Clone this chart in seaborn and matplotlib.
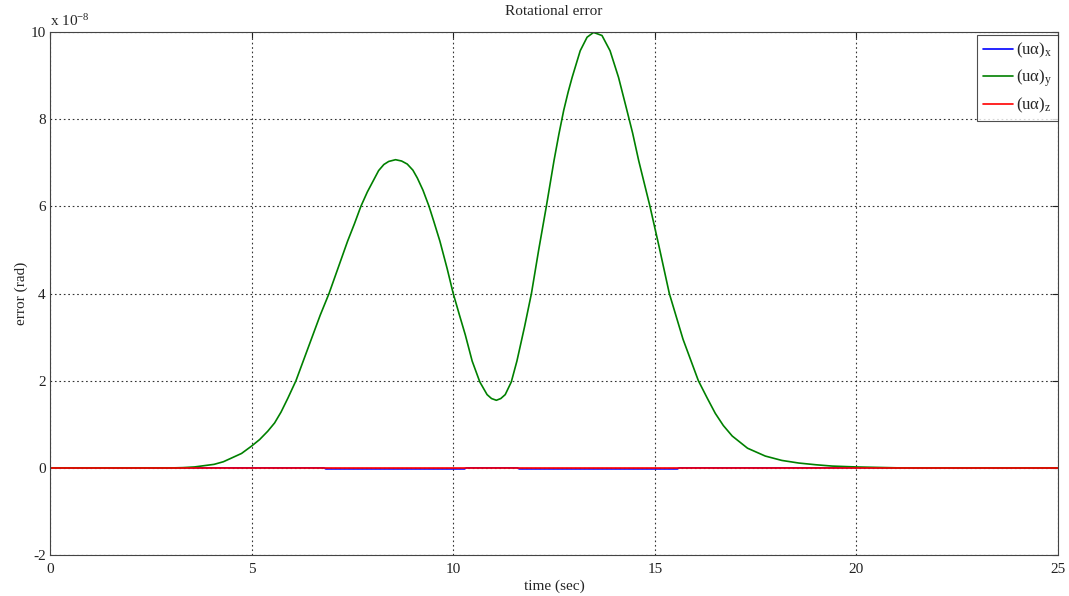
import numpy as np
import pandas as pd
import matplotlib
matplotlib.use("Agg")
import matplotlib.pyplot as plt
import seaborn as sns

# ---- data (values in units of 1e-8 rad) ----
t_y = [0.0, 3.1, 3.3, 3.58, 4.07, 4.3, 4.49, 4.75, 5.0, 5.2, 5.4, 5.57, 5.73, 5.9,
       6.1, 6.3, 6.5, 6.7, 6.92, 7.15, 7.38, 7.55, 7.71, 7.87, 8.03, 8.15, 8.28,
       8.4, 8.57, 8.72, 8.86, 9.0, 9.11, 9.25, 9.4, 9.52, 9.67, 9.85, 10.0, 10.15,
       10.3, 10.47, 10.66, 10.84, 10.95, 11.07, 11.18, 11.29, 11.44, 11.58, 11.77,
       11.94, 12.12, 12.31, 12.5, 12.62, 12.74, 12.85, 12.95, 13.15, 13.32, 13.48,
       13.69, 13.89, 14.1, 14.29, 14.45, 14.6, 14.88, 15.1, 15.36, 15.7, 16.08,
       16.3, 16.5, 16.7, 16.92, 17.3, 17.74, 18.15, 18.57, 19.0, 19.4, 20.0, 20.5,
       21.0, 25.0]
err_y = [0.0, 0.0, 0.005, 0.02, 0.08, 0.14, 0.22, 0.33, 0.50, 0.65, 0.84, 1.03, 1.28, 1.6,
         2.0, 2.5, 3.0, 3.5, 4.0, 4.6, 5.2, 5.6, 6.0, 6.33, 6.61, 6.82, 6.96,
         7.03, 7.07, 7.04, 6.97, 6.83, 6.65, 6.37, 6.0, 5.65, 5.2, 4.57, 4.0, 3.52,
         3.05, 2.45, 1.97, 1.68, 1.59, 1.55, 1.59, 1.68, 1.97, 2.45, 3.24,
         4.0, 5.0, 6.0, 7.05, 7.65, 8.2, 8.62, 8.96, 9.57, 9.88, 9.99,
         9.92, 9.57, 8.96, 8.27, 7.68, 7.05, 6.0, 5.1, 4.0, 2.95, 2.0,
         1.6, 1.25, 0.97, 0.73, 0.45, 0.27, 0.17, 0.11, 0.07, 0.04, 0.02, 0.01,
         0.0, 0.0]

t_x = [0.0, 6.79, 6.84, 10.28, 10.33, 11.59, 11.64, 15.56, 15.61, 25.0]
err_x = [0.0, 0.0, -0.025, -0.025, 0.0, 0.0, -0.025, -0.025, 0.0, 0.0]

t_z = [0.0, 25.0]
err_z = [0.0, 0.0]

labels = [r"(uα)$_\mathrm{x}$", r"(uα)$_\mathrm{y}$", r"(uα)$_\mathrm{z}$"]
colors = ["#0000ff", "#008000", "#ff0000"]

x_ticks = [0, 5, 10, 15, 20, 25]
y_ticks = [-2, 0, 2, 4, 6, 8, 10]

# ---- style ----
sns.set_style("white")
plt.rcParams["font.family"] = ["Liberation Serif", "DejaVu Serif"]
plt.rcParams["mathtext.fontset"] = "custom"
plt.rcParams["mathtext.rm"] = "Liberation Serif"
plt.rcParams["mathtext.it"] = "Liberation Serif:italic"
plt.rcParams["font.size"] = 11

fig = plt.figure(figsize=(10.69, 5.96), dpi=100)
ax = fig.add_axes([0.0468, 0.0688, 0.9429, 0.8775])

dfs = [pd.DataFrame({"t": t_x, "e": err_x}),
       pd.DataFrame({"t": t_y, "e": err_y}),
       pd.DataFrame({"t": t_z, "e": err_z})]
for df, lab, col in zip(dfs, labels, colors):
    sns.lineplot(data=df, x="t", y="e", ax=ax, color=col, linewidth=1.2,
                 label=lab, estimator=None, sort=False)

ax.set_xlim(0, 25)
ax.set_ylim(-2, 10)
ax.set_xticks(x_ticks)
ax.set_yticks(y_ticks)
ax.set_xticklabels([str(v) for v in x_ticks])
ax.set_yticklabels([str(v) for v in y_ticks])
ax.grid(True, linestyle=(0, (1.5, 2.5)), color="#333333", linewidth=0.8)
ax.tick_params(direction="in", length=4, top=True, right=True, labelsize=11,
               colors="#222222")
ax.tick_params(axis="x", pad=6)
ax.tick_params(axis="y", pad=3)
for s in ax.spines.values():
    s.set_color("#444444")
    s.set_linewidth(0.8)

ax.set_title("Rotational error", fontsize=11, pad=12)
ax.set_xlabel("time (sec)", fontsize=11, labelpad=2)
ax.set_ylabel("error (rad)", fontsize=11, labelpad=2)
ax.annotate(r"x 10$^{-8}$", xy=(0, 1), xycoords="axes fraction",
            xytext=(0, 4), textcoords="offset points", fontsize=11,
            ha="left", va="baseline")

leg = ax.legend(loc="upper right", bbox_to_anchor=(1.0, 0.994), frameon=True,
                fancybox=False, fontsize=12, handlelength=1.8, borderpad=0.35,
                labelspacing=0.42, handletextpad=0.2, borderaxespad=0.0)
leg.get_frame().set_edgecolor("#222222")
leg.get_frame().set_linewidth(0.8)

fig.savefig("out.png", dpi=100)
